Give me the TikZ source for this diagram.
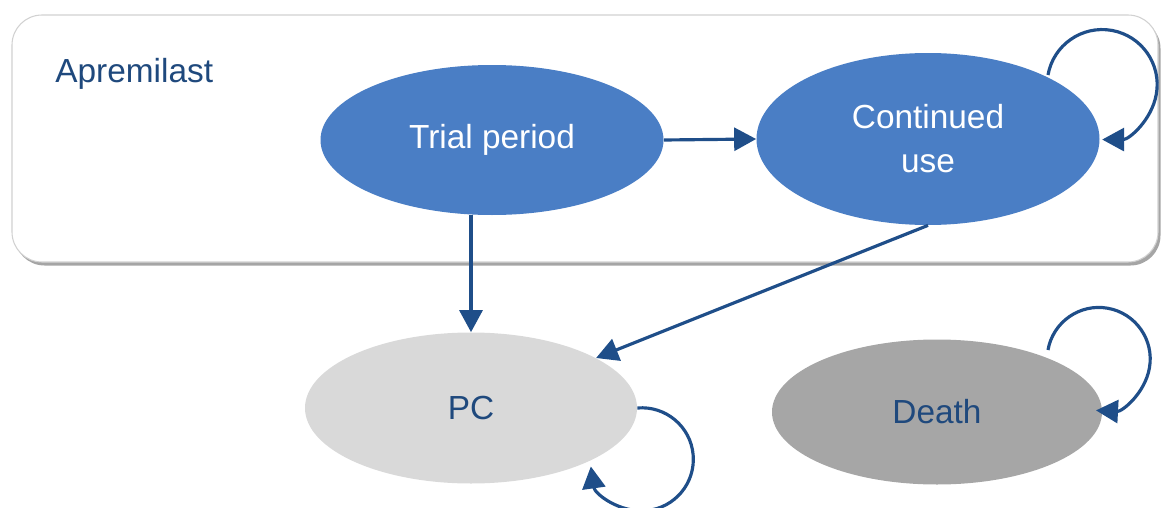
\documentclass[tikz,border=0pt]{standalone}
\usepackage{fontspec}
\setmainfont{Liberation Sans}
\usetikzlibrary{arrows.meta,shapes.geometric,shadows}

\definecolor{stateblue}{HTML}{4A7EC5}
\definecolor{arrowblue}{HTML}{1F4E89}
\definecolor{labelblue}{HTML}{1F497D}
\definecolor{pcgray}{HTML}{D9D9D9}
\definecolor{deathgray}{HTML}{A6A6A6}

\begin{document}
\begin{tikzpicture}[x=1cm,y=1cm,
  state/.style={ellipse, inner sep=0pt, align=center,
    font=\fontsize{19}{25}\selectfont},
  link/.style={-{Triangle[length=4.4mm,width=4.6mm]}, draw=arrowblue,
    line width=1.8pt}]
\useasboundingbox (0,0) rectangle (23.26,-10.16);

% treatment group
\node[draw=black!18, line width=0.6pt, fill=white, rounded corners=0.6cm,
  minimum width=22.92cm, minimum height=4.94cm,
  drop shadow={shadow xshift=0.05cm, shadow yshift=-0.07cm, fill=black!70}]
  (grp) at (11.7,-2.77) {};
\node[anchor=base west, inner sep=0pt, text=labelblue,
  font=\fontsize{19}{25}\selectfont] (lbl) at (1.1,-1.64) {Apremilast};

% states
\node[state, fill=stateblue, text=white, minimum width=6.86cm,
  minimum height=3.0cm] (trial) at (9.84,-2.8) {Trial period};
\node[state, fill=stateblue, text=white, minimum width=6.86cm,
  minimum height=3.44cm] (cont) at (18.56,-2.78) {Continued\\use};
\node[state, fill=pcgray, text=labelblue, minimum width=6.64cm,
  minimum height=3.02cm] (pc) at (9.42,-8.16) {PC};
\node[state, fill=deathgray, text=labelblue, minimum width=6.6cm,
  minimum height=2.9cm] (death) at (18.74,-8.24) {Death};

\coordinate (contloop) at (20.96,-1.5);
\coordinate (deathloop) at (20.96,-7.0);

% transitions
\draw[link] (trial.east) -- (cont.west);
\draw[link] (pc.north |- trial.south) -- (pc.north);
\draw[link] (cont.south) -- (pc);
\draw[link] (contloop) arc[start angle=170, end angle=-90, radius=1.1cm];
\draw[link] (pc.east) arc[start angle=95, end angle=-172, radius=1.03cm];
\draw[link] (deathloop) arc[start angle=170, end angle=-93, radius=1.03cm];
\end{tikzpicture}
\end{document}
